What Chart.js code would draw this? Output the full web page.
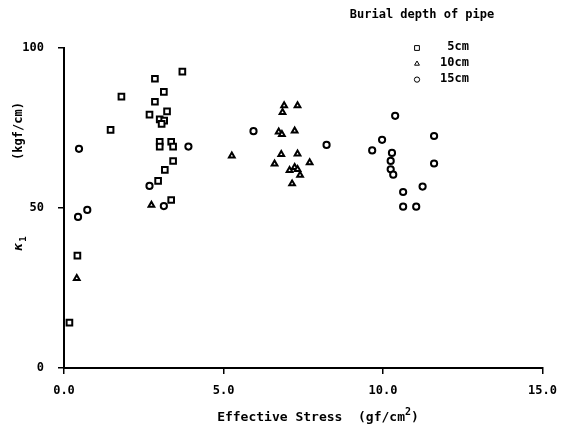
<!DOCTYPE html>
<html>
<head>
<meta charset="utf-8">
<script src="https://cdn.jsdelivr.net/npm/chart.js@4/dist/chart.umd.min.js"></script>
<style>
  html, body { margin: 0; padding: 0; background: #fff; }
  #wrap { width: 567px; height: 435px; }
</style>
</head>
<body>
<div id="wrap"><canvas id="chart" width="567" height="435"></canvas></div>
<script>
// ---- data ----
const depthLabels = ["5cm", "10cm", "15cm"];
const depthStyles = ["rect", "triangle", "circle"];

// 5cm (squares)
const stress5 = [0.17, 0.42, 1.46, 1.80, 2.85, 3.71, 3.13, 2.85, 3.23, 2.68, 3.00, 3.14, 3.06,
                 3.00, 3.36, 3.00, 3.42, 3.42, 3.16, 2.95, 3.36];
const k5 =      [14.2, 35.1, 74.4, 84.8, 90.4, 92.6, 86.3, 83.2, 80.2, 79.2, 77.7, 77.3, 76.3,
                 70.7, 70.7, 69.2, 69.2, 64.7, 61.9, 58.5, 52.5];

// 10cm (triangles)
const stress10 = [0.40, 2.74, 5.26, 6.90, 7.32, 6.85, 6.73, 6.83, 7.23, 6.81, 7.32, 6.60,
                  7.70, 7.23, 7.07, 7.32, 7.40, 7.15];
const k10 =      [28.0, 50.9, 66.3, 82.0, 82.0, 79.9, 73.8, 73.0, 74.1, 66.8, 66.9, 63.8,
                  64.2, 62.7, 61.8, 62.1, 60.3, 57.6];

// 15cm (circles)
const stress15 = [0.44, 0.73, 0.47, 2.68, 3.13, 3.90, 5.94, 8.23, 10.38, 11.60, 9.97, 9.66,
                  10.28, 10.24, 11.60, 10.24, 10.32, 10.63, 11.24, 10.63, 11.04];
const k15 =      [47.2, 49.4, 68.5, 56.9, 50.6, 69.2, 74.0, 69.7, 78.8, 72.5, 71.3, 68.0,
                  67.2, 64.7, 63.9, 62.1, 60.4, 55.0, 56.7, 50.4, 50.4];

const xTicks = [0, 5, 10, 15];
const yTicks = [0, 50, 100];

// ---- helpers ----
const FONT = "'DejaVu Sans Mono', 'Liberation Mono', monospace";
const toPoints = (xs, ys) => xs.map((x, i) => ({ x: x, y: ys[i] }));
const radiusFor = { rect: 4, triangle: 3.3, circle: 3.1 };

const datasets = [
  toPoints(stress5, k5),
  toPoints(stress10, k10),
  toPoints(stress15, k15),
].map((pts, i) => ({
  label: depthLabels[i],
  data: pts,
  pointStyle: depthStyles[i],
  pointRadius: radiusFor[depthStyles[i]],
  pointBorderWidth: 2,
  pointBorderColor: "#000",
  pointBackgroundColor: "#fff",
  showLine: false,
}));

// axis titles + legend drawn around the chart area
const decorations = {
  id: "decorations",
  afterDraw(chart) {
    const ctx = chart.ctx;
    const area = chart.chartArea;
    ctx.save();
    ctx.fillStyle = "#000";
    ctx.textBaseline = "middle";

    // x axis title
    ctx.font = "bold 13px " + FONT;
    ctx.textAlign = "left";
    const xt = "Effective Stress  (gf/cm";
    const xtW = ctx.measureText(xt).width;
    const xtX = area.left + (area.right - area.left) * 0.32;
    ctx.fillText(xt, xtX, 418);
    ctx.font = "bold 10px " + FONT;
    ctx.fillText("2", xtX + xtW, 412);
    const supW = ctx.measureText("2").width;
    ctx.font = "bold 13px " + FONT;
    ctx.fillText(")", xtX + xtW + supW, 418);

    // y axis title (rotated)
    ctx.save();
    ctx.translate(19, 0);
    ctx.rotate(-Math.PI / 2);
    ctx.textAlign = "center";
    ctx.font = "bold 12px " + FONT;
    ctx.fillText("(kgf/cm)", -131, 0);
    ctx.font = "italic bold 13px " + FONT;
    ctx.fillText("\u03ba", -247, 0);
    ctx.font = "bold 9px " + FONT;
    ctx.fillText("1", -239, 5);
    ctx.restore();

    // legend
    ctx.font = "bold 12px " + FONT;
    ctx.textAlign = "center";
    ctx.fillText("Burial depth of pipe", 422, 15);
    ctx.textAlign = "right";
    chart.data.datasets.forEach((ds, i) => {
      const y = 48 + i * 15.8;
      ctx.strokeStyle = "#000";
      ctx.fillStyle = "#fff";
      Chart.helpers.drawPoint(ctx, {
        pointStyle: ds.pointStyle,
        radius: ds.pointRadius * 0.85,
        borderWidth: 2,
      }, 417, y);
      ctx.fillStyle = "#000";
      ctx.fillText(ds.label, 469, y - 1);
    });
    ctx.restore();
  },
};

const axisFont = { family: FONT, size: 12, weight: "bold" };

new Chart(document.getElementById("chart"), {
  type: "scatter",
  data: { datasets: datasets },
  options: {
    responsive: false,
    devicePixelRatio: 1,
    animation: false,
    layout: { padding: { top: 48, right: 23, left: 0, bottom: 0 } },
    plugins: {
      legend: { display: false },
      tooltip: { enabled: false },
    },
    elements: { point: { hoverRadius: 4 } },
    scales: {
      x: {
        type: "linear",
        min: 0,
        max: 15,
        afterBuildTicks: (s) => { s.ticks = xTicks.map(v => ({ value: v })); },
        afterFit: (s) => { s.height = 67; },
        ticks: {
          color: "#000",
          font: axisFont,
          padding: 10,
          maxRotation: 0,
          callback: (v) => Number(v).toFixed(1),
        },
        grid: { drawOnChartArea: false, drawTicks: true, tickLength: 6, color: "#000", lineWidth: 1.5 },
        border: { display: true, color: "#000", width: 2 },
      },
      y: {
        type: "linear",
        min: 0,
        max: 100,
        afterBuildTicks: (s) => { s.ticks = yTicks.map(v => ({ value: v })); },
        afterFit: (s) => { s.width = 64; },
        ticks: { color: "#000", font: axisFont, padding: 14 },
        grid: { drawOnChartArea: false, drawTicks: true, tickLength: 6, color: "#000", lineWidth: 1.5 },
        border: { display: true, color: "#000", width: 2 },
      },
    },
  },
  plugins: [decorations],
});
</script>
</body>
</html>
